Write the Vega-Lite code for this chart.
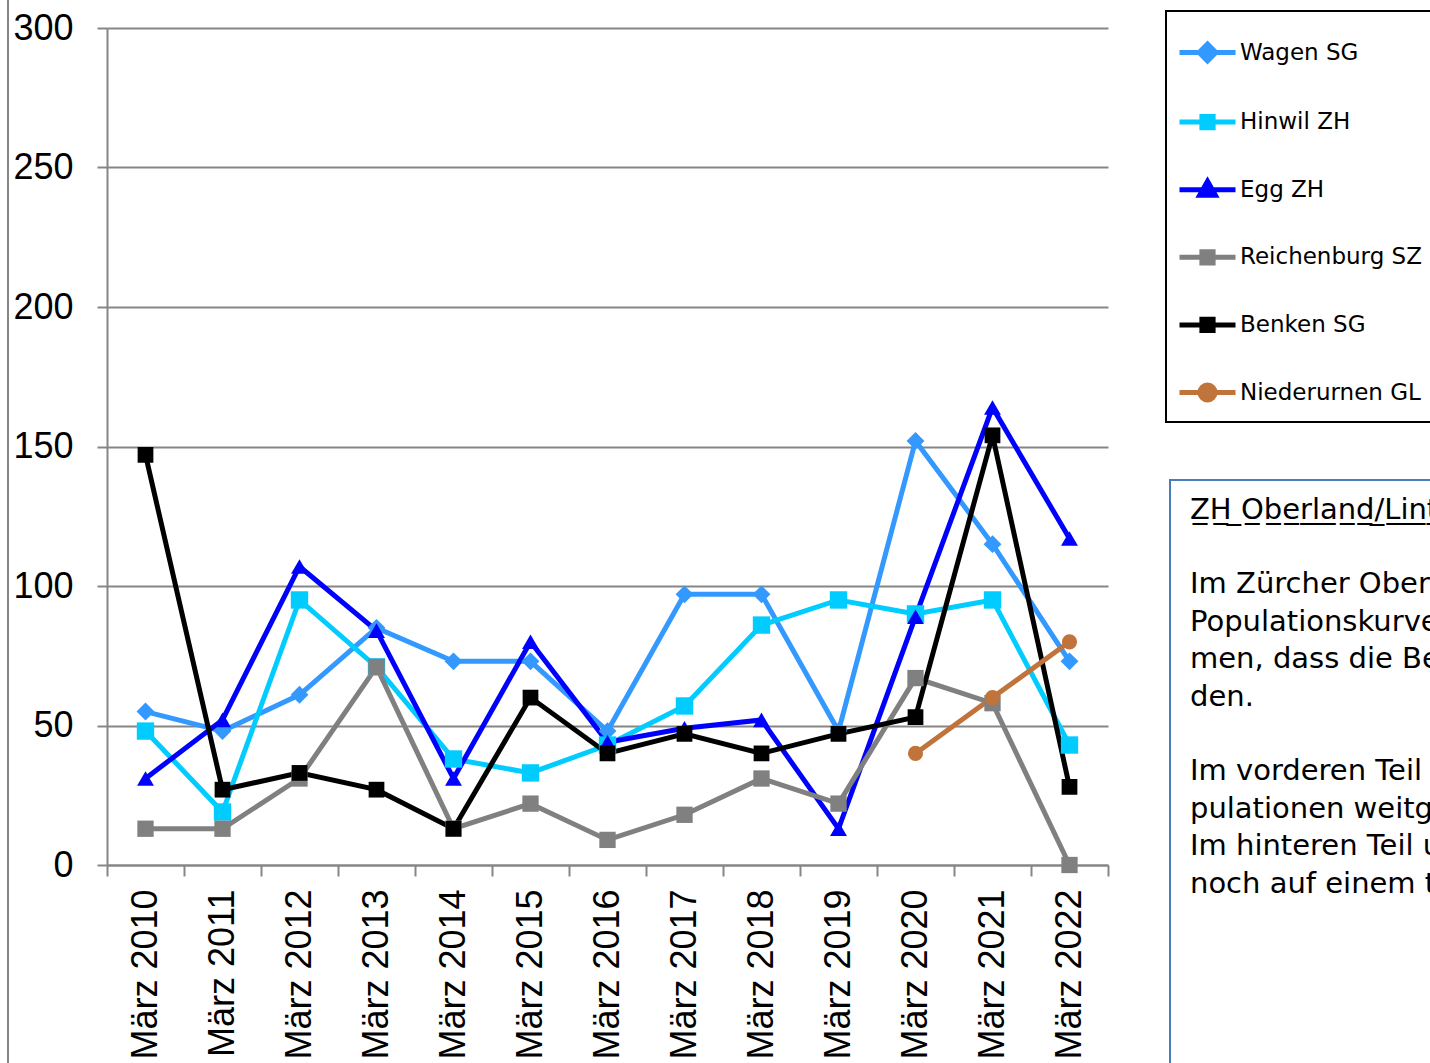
{
  "$schema": "https://vega.github.io/schema/vega-lite/v6.json",
  "autosize": {"type": "none"},
  "width": 1001,
  "height": 837,
  "padding": {"left": 107, "top": 28, "right": 322, "bottom": 198},
  "background": "white",
  "config": {"view": {"stroke": null}, "legend": {"strokeWidth": 2}},
  "resolve": {"scale": {"shape": "independent", "color": "independent", "stroke": "independent"}},
  "datasets": {
    "serien": [
      {"jahr": "März 2010", "ort": "Wagen SG", "anzahl": 55},
      {"jahr": "März 2011", "ort": "Wagen SG", "anzahl": 48},
      {"jahr": "März 2012", "ort": "Wagen SG", "anzahl": 61},
      {"jahr": "März 2013", "ort": "Wagen SG", "anzahl": 85},
      {"jahr": "März 2014", "ort": "Wagen SG", "anzahl": 73},
      {"jahr": "März 2015", "ort": "Wagen SG", "anzahl": 73},
      {"jahr": "März 2016", "ort": "Wagen SG", "anzahl": 48},
      {"jahr": "März 2017", "ort": "Wagen SG", "anzahl": 97},
      {"jahr": "März 2018", "ort": "Wagen SG", "anzahl": 97},
      {"jahr": "März 2019", "ort": "Wagen SG", "anzahl": 48},
      {"jahr": "März 2020", "ort": "Wagen SG", "anzahl": 152},
      {"jahr": "März 2021", "ort": "Wagen SG", "anzahl": 115},
      {"jahr": "März 2022", "ort": "Wagen SG", "anzahl": 73},
      {"jahr": "März 2010", "ort": "Hinwil ZH", "anzahl": 48},
      {"jahr": "März 2011", "ort": "Hinwil ZH", "anzahl": 19},
      {"jahr": "März 2012", "ort": "Hinwil ZH", "anzahl": 95},
      {"jahr": "März 2013", "ort": "Hinwil ZH", "anzahl": 71},
      {"jahr": "März 2014", "ort": "Hinwil ZH", "anzahl": 38},
      {"jahr": "März 2015", "ort": "Hinwil ZH", "anzahl": 33},
      {"jahr": "März 2016", "ort": "Hinwil ZH", "anzahl": 43},
      {"jahr": "März 2017", "ort": "Hinwil ZH", "anzahl": 57},
      {"jahr": "März 2018", "ort": "Hinwil ZH", "anzahl": 86},
      {"jahr": "März 2019", "ort": "Hinwil ZH", "anzahl": 95},
      {"jahr": "März 2020", "ort": "Hinwil ZH", "anzahl": 90},
      {"jahr": "März 2021", "ort": "Hinwil ZH", "anzahl": 95},
      {"jahr": "März 2022", "ort": "Hinwil ZH", "anzahl": 43},
      {"jahr": "März 2010", "ort": "Egg ZH", "anzahl": 31},
      {"jahr": "März 2011", "ort": "Egg ZH", "anzahl": 52},
      {"jahr": "März 2012", "ort": "Egg ZH", "anzahl": 107},
      {"jahr": "März 2013", "ort": "Egg ZH", "anzahl": 84},
      {"jahr": "März 2014", "ort": "Egg ZH", "anzahl": 31},
      {"jahr": "März 2015", "ort": "Egg ZH", "anzahl": 80},
      {"jahr": "März 2016", "ort": "Egg ZH", "anzahl": 44},
      {"jahr": "März 2017", "ort": "Egg ZH", "anzahl": 49},
      {"jahr": "März 2018", "ort": "Egg ZH", "anzahl": 52},
      {"jahr": "März 2019", "ort": "Egg ZH", "anzahl": 13},
      {"jahr": "März 2020", "ort": "Egg ZH", "anzahl": 89},
      {"jahr": "März 2021", "ort": "Egg ZH", "anzahl": 164},
      {"jahr": "März 2022", "ort": "Egg ZH", "anzahl": 117},
      {"jahr": "März 2010", "ort": "Reichenburg SZ", "anzahl": 13},
      {"jahr": "März 2011", "ort": "Reichenburg SZ", "anzahl": 13},
      {"jahr": "März 2012", "ort": "Reichenburg SZ", "anzahl": 31},
      {"jahr": "März 2013", "ort": "Reichenburg SZ", "anzahl": 71},
      {"jahr": "März 2014", "ort": "Reichenburg SZ", "anzahl": 13},
      {"jahr": "März 2015", "ort": "Reichenburg SZ", "anzahl": 22},
      {"jahr": "März 2016", "ort": "Reichenburg SZ", "anzahl": 9},
      {"jahr": "März 2017", "ort": "Reichenburg SZ", "anzahl": 18},
      {"jahr": "März 2018", "ort": "Reichenburg SZ", "anzahl": 31},
      {"jahr": "März 2019", "ort": "Reichenburg SZ", "anzahl": 22},
      {"jahr": "März 2020", "ort": "Reichenburg SZ", "anzahl": 67},
      {"jahr": "März 2021", "ort": "Reichenburg SZ", "anzahl": 58},
      {"jahr": "März 2022", "ort": "Reichenburg SZ", "anzahl": 0},
      {"jahr": "März 2010", "ort": "Benken SG", "anzahl": 147},
      {"jahr": "März 2011", "ort": "Benken SG", "anzahl": 27},
      {"jahr": "März 2012", "ort": "Benken SG", "anzahl": 33},
      {"jahr": "März 2013", "ort": "Benken SG", "anzahl": 27},
      {"jahr": "März 2014", "ort": "Benken SG", "anzahl": 13},
      {"jahr": "März 2015", "ort": "Benken SG", "anzahl": 60},
      {"jahr": "März 2016", "ort": "Benken SG", "anzahl": 40},
      {"jahr": "März 2017", "ort": "Benken SG", "anzahl": 47},
      {"jahr": "März 2018", "ort": "Benken SG", "anzahl": 40},
      {"jahr": "März 2019", "ort": "Benken SG", "anzahl": 47},
      {"jahr": "März 2020", "ort": "Benken SG", "anzahl": 53},
      {"jahr": "März 2021", "ort": "Benken SG", "anzahl": 154},
      {"jahr": "März 2022", "ort": "Benken SG", "anzahl": 28},
      {"jahr": "März 2020", "ort": "Niederurnen GL", "anzahl": 40},
      {"jahr": "März 2021", "ort": "Niederurnen GL", "anzahl": 60},
      {"jahr": "März 2022", "ort": "Niederurnen GL", "anzahl": 80}
    ],
    "textbox": [
      {"zeile": "Z̲H̲ ̲O̲b̲e̲r̲l̲a̲n̲d̲/̲L̲i̲n̲t̲h̲e̲b̲e̲n̲e̲"},
      {"zeile": " "},
      {"zeile": "Im Zürcher Oberland und in der Linthebene zeigen die"},
      {"zeile": "Populationskurven einen ähnlichen Verlauf. Es ist anzuneh-"},
      {"zeile": "men, dass die Bestände vom gleichen Wetter beeinflusst wer-"},
      {"zeile": "den."},
      {"zeile": "  "},
      {"zeile": "Im vorderen Teil des Oberlandes haben sich die Po-"},
      {"zeile": "pulationen weitgehend erholt."},
      {"zeile": "Im hinteren Teil und in der Linthebene sind sie"},
      {"zeile": "noch auf einem tiefen Stand."},
      {"zeile": "   "},
      {"zeile": "    "},
      {"zeile": "     "},
      {"zeile": "      "}
    ],
    "rahmen": [{"r": " "}]
  },
  "layer": [
    {
      "data": {"name": "serien"},
      "encoding": {
        "x": {
          "field": "jahr", "type": "ordinal",
          "sort": ["März 2010","März 2011","März 2012","März 2013","März 2014","März 2015","März 2016","März 2017","März 2018","März 2019","März 2020","März 2021","März 2022"],
          "scale": {"type": "band", "paddingInner": 0, "paddingOuter": 0},
          "axis": {
            "title": null, "labelAngle": -90, "tickBand": "extent",
            "labelFont": "Liberation Sans", "labelFontSize": 36, "labelColor": "black",
            "labelPadding": 13, "tickSize": 11, "tickWidth": 2, "tickColor": "#868686",
            "domainColor": "#868686", "domainWidth": 2, "grid": false
          }
        },
        "y": {
          "field": "anzahl", "type": "quantitative",
          "scale": {"domain": [0, 300], "nice": false},
          "axis": {
            "title": null, "values": [0, 50, 100, 150, 200, 250, 300],
            "labelFont": "Liberation Sans", "labelFontSize": 36, "labelColor": "black",
            "labelPadding": 24, "tickSize": 10, "tickWidth": 2, "tickColor": "#868686",
            "domainColor": "#868686", "domainWidth": 2,
            "grid": true, "gridColor": "#868686", "gridWidth": 2
          }
        },
        "color": {
          "field": "ort", "type": "nominal", "legend": null,
          "scale": {
            "domain": ["Wagen SG","Hinwil ZH","Egg ZH","Reichenburg SZ","Benken SG","Niederurnen GL"],
            "range": ["#3399FF","#00CCFF","#0000FF","#808080","#000000","#C0733A"]
          }
        },
        "shape": {
          "field": "ort", "type": "nominal", "legend": null,
          "scale": {
            "domain": ["Wagen SG","Hinwil ZH","Egg ZH","Reichenburg SZ","Benken SG","Niederurnen GL"],
            "range": ["diamond","square","triangle-up","square","square","circle"]
          }
        }
      },
      "layer": [
        {
          "mark": {"type": "line"},
          "encoding": {
            "strokeWidth": {
              "field": "ort", "type": "nominal", "legend": null,
              "scale": {
                "domain": ["Wagen SG","Hinwil ZH","Egg ZH","Reichenburg SZ","Benken SG","Niederurnen GL"],
                "range": [5, 5, 5, 4.5, 5, 3.5]
              }
            }
          }
        },
        {
          "mark": {"type": "point", "filled": true, "opacity": 1},
          "encoding": {
            "size": {
              "field": "ort", "type": "nominal", "legend": null,
              "scale": {
                "domain": ["Wagen SG","Hinwil ZH","Egg ZH","Reichenburg SZ","Benken SG","Niederurnen GL"],
                "range": [320, 230, 440, 230, 230, 350]
              }
            }
          }
        }
      ]
    },
    {
      "data": {"name": "serien"},
      "mark": {"type": "point", "filled": true, "opacity": 0, "strokeWidth": 5},
      "encoding": {
        "color": {
          "field": "ort", "type": "nominal",
          "scale": {
            "domain": ["Wagen SG","Hinwil ZH","Egg ZH","Reichenburg SZ","Benken SG","Niederurnen GL"],
            "range": ["#3399FF","#00CCFF","#0000FF","#808080","#000000","#C0733A"]
          },
          "legend": {
            "title": null, "orient": "none", "legendX": 1059, "legendY": -17,
            "strokeColor": "black", "padding": 11, "rowPadding": 20.6,
            "labelFont": "DejaVu Sans", "labelFontSize": 23, "labelColor": "black", "labelLimit": 400,
            "labelExpr": "datum.label + '\u00a0\u00a0'",
            "symbolSize": 3136, "symbolStrokeWidth": 5, "symbolOpacity": 1, "labelOffset": 2
          }
        },
        "stroke": {
          "field": "ort", "type": "nominal",
          "scale": {
            "domain": ["Wagen SG","Hinwil ZH","Egg ZH","Reichenburg SZ","Benken SG","Niederurnen GL"],
            "range": ["#3399FF","#00CCFF","#0000FF","#808080","#000000","#C0733A"]
          },
          "legend": {
            "title": null, "orient": "none", "legendX": 1059, "legendY": -17,
            "strokeColor": "black", "padding": 11, "rowPadding": 20.6,
            "labelFont": "DejaVu Sans", "labelFontSize": 23, "labelColor": "black", "labelLimit": 400,
            "labelExpr": "datum.label + '\u00a0\u00a0'",
            "symbolSize": 3136, "symbolStrokeWidth": 5, "symbolOpacity": 1, "labelOffset": 2
          }
        },
        "shape": {
          "field": "ort", "type": "nominal",
          "scale": {
            "domain": ["Wagen SG","Hinwil ZH","Egg ZH","Reichenburg SZ","Benken SG","Niederurnen GL"],
            "range": [
              "M-1,0H1M0,-0.3L0.3,0L0,0.3L-0.3,0Z",
              "M-1,0H1M-0.2,-0.2H0.2V0.2H-0.2Z",
              "M-1,0H1M0,-0.3L0.28,0.2L-0.28,0.2Z",
              "M-1,0H1M-0.2,-0.2H0.2V0.2H-0.2Z",
              "M-1,0H1M-0.2,-0.2H0.2V0.2H-0.2Z",
              "M-1,0H1M-0.27,0A0.27,0.27 0 1,0 0.27,0A0.27,0.27 0 1,0 -0.27,0Z"
            ]
          },
          "legend": {
            "title": null, "orient": "none", "legendX": 1059, "legendY": -17,
            "strokeColor": "black", "padding": 11, "rowPadding": 20.6,
            "labelFont": "DejaVu Sans", "labelFontSize": 23, "labelColor": "black", "labelLimit": 400,
            "labelExpr": "datum.label + '\u00a0\u00a0'",
            "symbolSize": 3136, "symbolStrokeWidth": 5, "symbolOpacity": 1, "labelOffset": 2
          }
        }
      }
    },
    {
      "data": {"name": "textbox"},
      "mark": {"type": "point", "size": 0, "opacity": 0},
      "encoding": {
        "strokeDash": {
          "field": "zeile", "type": "nominal",
          "scale": {"domain": ["Z̲H̲ ̲O̲b̲e̲r̲l̲a̲n̲d̲/̲L̲i̲n̲t̲h̲e̲b̲e̲n̲e̲"," ","Im Zürcher Oberland und in der Linthebene zeigen die","Populationskurven einen ähnlichen Verlauf. Es ist anzuneh-","men, dass die Bestände vom gleichen Wetter beeinflusst wer-","den.","  ","Im vorderen Teil des Oberlandes haben sich die Po-","pulationen weitgehend erholt.","Im hinteren Teil und in der Linthebene sind sie","noch auf einem tiefen Stand.","   ","    ","     ","      "]},
          "legend": {
            "title": null, "orient": "none", "legendX": 1063, "legendY": 452,
            "strokeColor": "#4A7EBB", "padding": 15, "rowPadding": 7.4,
            "labelFont": "DejaVu Sans", "labelFontSize": 29, "labelColor": "black", "labelLimit": 2000,
            "symbolSize": 0, "symbolStrokeWidth": 0, "symbolOpacity": 0, "labelOffset": -24
          }
        }
      }
    },
    {
      "data": {"name": "rahmen"},
      "mark": {"type": "point", "size": 0, "opacity": 0},
      "encoding": {
        "fill": {
          "field": "r", "type": "nominal",
          "legend": {
            "title": null, "orient": "none", "legendX": -99, "legendY": -228,
            "strokeColor": "#868686", "padding": 740,
            "symbolOpacity": 0, "labelFontSize": 10, "labelColor": "white"
          }
        }
      }
    }
  ]
}
